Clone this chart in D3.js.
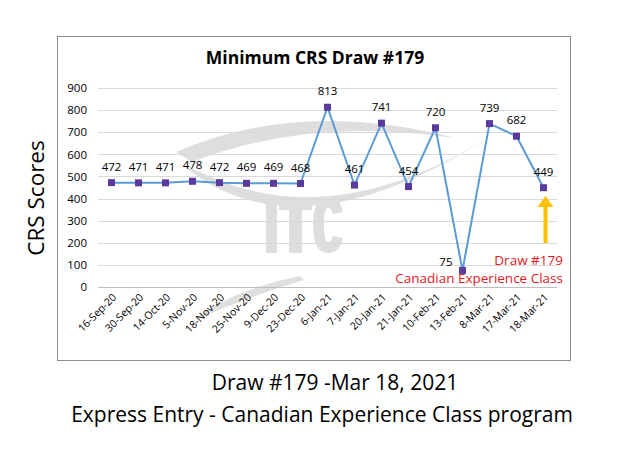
<!DOCTYPE html>
<html><head><meta charset="utf-8">
<script src="https://cdn.jsdelivr.net/npm/d3@7"></script>
<style>body{margin:0;background:#fff}svg{display:block}</style>
</head><body>
<svg id="c" width="630" height="450"></svg>
<script>
const categories = ["16-Sep-20","30-Sep-20","14-Oct-20","5-Nov-20","18-Nov-20","25-Nov-20","9-Dec-20","23-Dec-20","6-Jan-21","7-Jan-21","20-Jan-21","21-Jan-21","10-Feb-21","13-Feb-21","8-Mar-21","17-Mar-21","18-Mar-21"];
const scores = [472,471,471,478,472,469,469,468,813,461,741,454,720,75,739,682,449];
const yTicks = [0,100,200,300,400,500,600,700,800,900];
const title = "Minimum CRS Draw #179";
const yTitle = "CRS Scores";
const footer1 = "Draw #179 -Mar 18, 2021";
const footer2 = "Express Entry - Canadian Experience Class program";
const note = ["Draw #179","Canadian Experience Class"];

const font = "'Open Sans', sans-serif";
const svg = d3.select("#c");
const x = d3.scalePoint().domain(categories).range([98,557]).padding(0.5);
const y = d3.scaleLinear().domain([0,900]).range([287,88]);

// chart border
svg.append("rect").attr("x",57.5).attr("y",36.5).attr("width",513).attr("height",324)
  .attr("fill","#fff").attr("stroke","#8c8c8c").attr("stroke-width",1);

// watermark logo (shapes)
const wm = svg.append("g").attr("fill","#d9d9d9").attr("opacity",0.85);
wm.append("path").attr("d","M176,152 Q300,98 455,138 Q310,116 192,162 Z");
wm.append("path").attr("d","M184,166 Q300,262 500,130 Q335,238 200,172 Z");
wm.append("path").attr("d","M300,276 Q232,290 194,320 Q250,296 304,280 Z");
wm.append("rect").attr("x",266).attr("y",198).attr("width",11).attr("height",55);
wm.append("rect").attr("x",279).attr("y",198).attr("width",33).attr("height",12);
wm.append("rect").attr("x",289).attr("y",198).attr("width",13).attr("height",55);
wm.append("path").attr("d","M343,212 Q340,197 328,197 Q313,197 313,225 Q313,253 328,253 Q340,253 343,238 L333,236 Q331,242 328,242 Q324,242 324,225 Q324,208 328,208 Q331,208 333,214 Z");

// grid
svg.append("g").selectAll("line").data(yTicks).join("line")
  .attr("x1",98).attr("x2",557).attr("y1",d=>Math.round(y(d))+0.5).attr("y2",d=>Math.round(y(d))+0.5)
  .attr("stroke",d=>d===0?"#bfbfbf":"#d9d9d9").attr("stroke-width",1);

// y axis labels
const ya = svg.append("g").attr("transform","translate(87,0)")
  .call(d3.axisLeft(y).tickValues(yTicks).tickSize(0).tickPadding(0));
ya.select(".domain").remove();
ya.selectAll("text").attr("font-family",font).attr("font-size",11.5).attr("fill","#000");

// x axis labels
const xa = svg.append("g").attr("transform","translate(0,287)")
  .call(d3.axisBottom(x).tickSize(0).tickPadding(0));
xa.select(".domain").remove();
xa.selectAll("text").attr("font-family",font).attr("font-size",10.5).attr("fill","#000")
  .attr("text-anchor","end").attr("dy",0)
  .attr("transform","translate(5,11) rotate(-45)");

// line
svg.append("path").datum(scores)
  .attr("d",d3.line().x((d,i)=>x(categories[i])).y(d=>y(d)))
  .attr("fill","none").attr("stroke","#5b9bd5").attr("stroke-width",2);

// markers
svg.append("g").selectAll("rect").data(scores).join("rect")
  .attr("x",(d,i)=>x(categories[i])-3.5).attr("y",d=>y(d)-3.5)
  .attr("width",7).attr("height",7).attr("fill","#5b3a9e");

// data labels
svg.append("g").selectAll("text").data(scores).join("text")
  .attr("x",(d,i)=>d===75? x(categories[i])-10 : x(categories[i]))
  .attr("y",d=>d===75? y(d)-4 : y(d)-12)
  .attr("text-anchor",d=>d===75?"end":"middle")
  .attr("font-family",font).attr("font-size",11.5).attr("fill","#000")
  .text(d=>d);

// title
svg.append("text").attr("x",315).attr("y",64).attr("text-anchor","middle")
  .attr("font-family",font).attr("font-weight","bold").attr("font-size",17.5).text(title);

// y title
svg.append("text").attr("transform","translate(44,198) rotate(-90)").attr("text-anchor","middle")
  .attr("font-family",font).attr("font-size",22.5).text(yTitle);

// annotation arrow
const last = categories.length-1;
const ax = x(categories[last]) + 2;
svg.append("line").attr("x1",ax).attr("x2",ax).attr("y1",243).attr("y2",205)
  .attr("stroke","#ffc000").attr("stroke-width",4);
svg.append("path").attr("d",`M${ax-8},207 L${ax},196 L${ax+8},207 Z`).attr("fill","#ffc000");

svg.append("g").selectAll("text").data(note).join("text")
  .attr("x",563).attr("y",(d,i)=>265+i*18).attr("text-anchor","end")
  .attr("font-family",font).attr("font-size",13.5).attr("fill","#e31b23").text(d=>d);

// footers
svg.append("text").attr("x",335).attr("y",390).attr("text-anchor","middle")
  .attr("font-family",font).attr("font-size",21).text(footer1);
svg.append("text").attr("x",322).attr("y",422).attr("text-anchor","middle")
  .attr("font-family",font).attr("font-size",21).text(footer2);
</script>
</body></html>
